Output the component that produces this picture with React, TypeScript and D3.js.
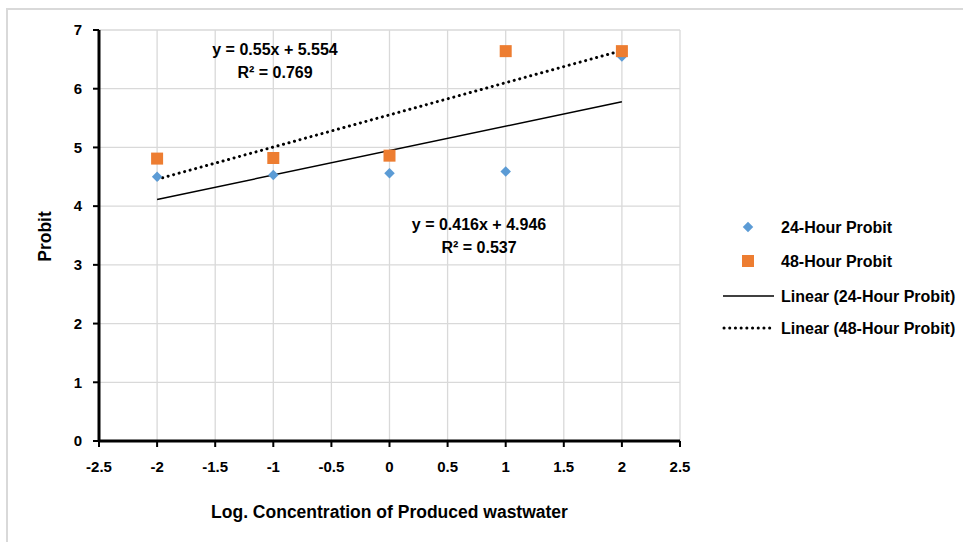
import React from 'react';
import * as d3 from 'd3';

// log concentration values (x) and probit readings
const logConc = [-2, -1, 0, 1, 2];
const probit24 = [4.5, 4.53, 4.56, 4.59, 6.55];
const probit48 = [4.81, 4.82, 4.86, 6.64, 6.64];

const xTicks = [-2.5, -2, -1.5, -1, -0.5, 0, 0.5, 1, 1.5, 2, 2.5];
const yTicks = [0, 1, 2, 3, 4, 5, 6, 7];

const legendItems = ['24-Hour Probit', '48-Hour Probit', 'Linear (24-Hour Probit)', 'Linear (48-Hour Probit)'];

const blue = '#5b9bd5';
const orange = '#ed7d31';
const grid = '#d9d9d9';
const font = '"Liberation Sans", Arial, sans-serif';

// least squares fit, same as Excel's linear trendline
const fit = (xs: number[], ys: number[]) => {
  const mx = d3.mean(xs) as number;
  const my = d3.mean(ys) as number;
  const sxy = d3.sum(xs, (x, i) => (x - mx) * (ys[i] - my));
  const sxx = d3.sum(xs, (x) => (x - mx) ** 2);
  const slope = sxy / sxx;
  return { slope, intercept: my - slope * mx };
};

const App = () => {
  const width = 963;
  const height = 542;
  const margin = { top: 30, right: 283, bottom: 101, left: 99 };

  const x = d3.scaleLinear().domain([-2.5, 2.5]).range([margin.left, width - margin.right]);
  const y = d3.scaleLinear().domain([0, 7]).range([height - margin.bottom, margin.top]);

  const line = d3.line<number[]>().x((d) => x(d[0])).y((d) => y(d[1]));

  const fit24 = fit(logConc, probit24);
  const fit48 = fit(logConc, probit48);
  const xMin = d3.min(logConc) as number;
  const xMax = d3.max(logConc) as number;
  const trend24 = [[xMin, fit24.intercept + fit24.slope * xMin], [xMax, fit24.intercept + fit24.slope * xMax]];
  const trend48 = [[xMin, fit48.intercept + fit48.slope * xMin], [xMax, fit48.intercept + fit48.slope * xMax]];

  const diamond = d3.symbol().type(d3.symbolDiamond2).size(70)() as string;

  const x0 = margin.left;
  const y0 = y(0);

  return (
    <svg width={width} height={height} style={{ position: 'absolute', left: 0, top: 0, fontFamily: font, fontWeight: 'bold' }}>
      <rect x={0} y={0} width={width} height={height} fill="#fff" />
      {/* outer chart border */}
      <path d={`M7,${height} V9 H${width}`} fill="none" stroke={grid} strokeWidth={2} />

      {/* gridlines */}
      {xTicks.map((t) => (
        <line key={'gx' + t} x1={x(t)} x2={x(t)} y1={y(7)} y2={y0} stroke={grid} strokeWidth={1.3} />
      ))}
      {yTicks.map((t) => (
        <line key={'gy' + t} x1={x0} x2={x(2.5)} y1={y(t)} y2={y(t)} stroke={grid} strokeWidth={1.3} />
      ))}

      {/* axes */}
      <line x1={x0} x2={x0} y1={y(7)} y2={y0} stroke="#000" strokeWidth={3} />
      <line x1={x0} x2={x(2.5)} y1={y0} y2={y0} stroke="#000" strokeWidth={3} />
      {yTicks.map((t) => (
        <g key={'ty' + t}>
          <line x1={x0 - 6} x2={x0} y1={y(t)} y2={y(t)} stroke="#000" strokeWidth={2} />
          <text x={x0 - 17} y={y(t)} dy="0.35em" textAnchor="end" fontSize={15}>{t}</text>
        </g>
      ))}
      {xTicks.map((t) => (
        <g key={'tx' + t}>
          <line x1={x(t)} x2={x(t)} y1={y0} y2={y0 + 6} stroke="#000" strokeWidth={2} />
          <text x={x(t)} y={y0 + 26} dy="0.35em" textAnchor="middle" fontSize={15}>{t}</text>
        </g>
      ))}

      {/* axis titles */}
      <text x={x(0)} y={512} dy="0.35em" textAnchor="middle" fontSize={17.5}>Log. Concentration of Produced wastwater</text>
      <text transform={`translate(45,${(y(7) + y0) / 2 + 1}) rotate(-90)`} dy="0.35em" textAnchor="middle" fontSize={17.5}>Probit</text>

      {/* trendlines */}
      <path d={line(trend24) as string} fill="none" stroke="#000" strokeWidth={1.5} />
      <path d={line(trend48) as string} fill="none" stroke="#000" strokeWidth={3} strokeDasharray="0.1 5.6" strokeLinecap="round" />

      {/* markers */}
      {logConc.map((c, i) => (
        <path key={'d' + c} d={diamond} transform={`translate(${x(c)},${y(probit24[i])})`} fill={blue} />
      ))}
      {logConc.map((c, i) => (
        <rect key={'s' + c} x={x(c) - 6} y={y(probit48[i]) - 6} width={12} height={12} fill={orange} />
      ))}

      {/* trendline equations */}
      <text x={275} y={49} dy="0.35em" textAnchor="middle" fontSize={16}>{`y = ${d3.format('.2f')(fit48.slope).replace(/0$/, '')}x + ${d3.format('.3f')(fit48.intercept)}`}</text>
      <text x={275} y={72} dy="0.35em" textAnchor="middle" fontSize={16}>R² = 0.769</text>
      <text x={479} y={224} dy="0.35em" textAnchor="middle" fontSize={16}>{`y = ${d3.format('.3f')(fit24.slope)}x + ${d3.format('.3f')(fit24.intercept)}`}</text>
      <text x={479} y={247} dy="0.35em" textAnchor="middle" fontSize={16}>R² = 0.537</text>

      {/* legend */}
      <g fontSize={16}>
        <path d={diamond} transform="translate(748,227)" fill={blue} />
        <text x={781} y={227} dy="0.35em">{legendItems[0]}</text>
        <rect x={742} y={255} width={12} height={12} fill={orange} />
        <text x={781} y={261} dy="0.35em">{legendItems[1]}</text>
        <line x1={723} x2={774} y1={296} y2={296} stroke="#000" strokeWidth={1.5} />
        <text x={781} y={296} dy="0.35em">{legendItems[2]}</text>
        <line x1={724} x2={772} y1={328} y2={328} stroke="#000" strokeWidth={3} strokeDasharray="0.1 5.6" strokeLinecap="round" />
        <text x={781} y={328} dy="0.35em">{legendItems[3]}</text>
      </g>
    </svg>
  );
};

export default App;
